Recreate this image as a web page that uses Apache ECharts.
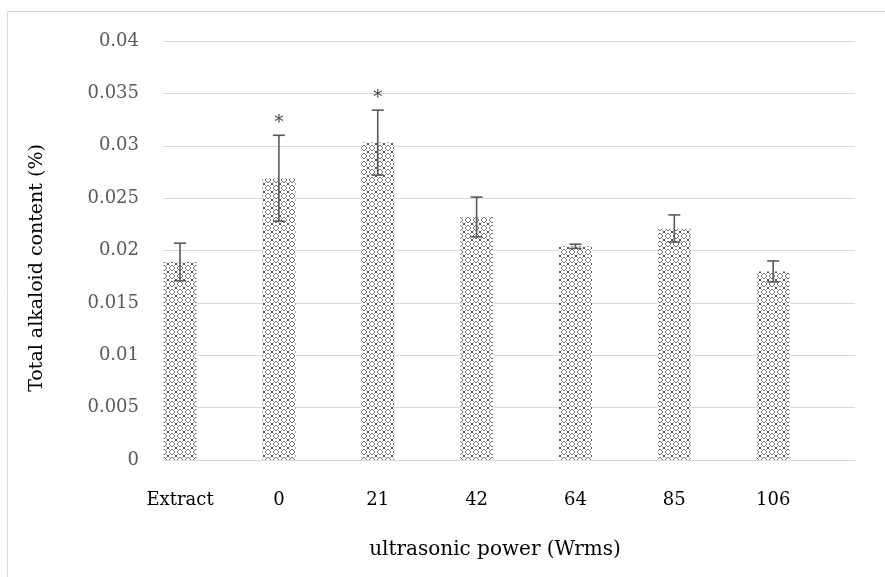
<!DOCTYPE html>
<html><head><meta charset="utf-8">
<script src="https://cdn.jsdelivr.net/npm/echarts@6/dist/echarts.min.js"></script>
<style>html,body{margin:0;padding:0;background:#fff}#c{width:885px;height:577px}</style>
</head><body><div id="c"></div>
<script>
var categories = ['Extract', '0', '21', '42', '64', '85', '106'];
var means = [0.0189, 0.0269, 0.0303, 0.0232, 0.0204, 0.0221, 0.0180];
var errors = [0.0018, 0.0041, 0.0031, 0.0019, 0.0002, 0.0013, 0.0010];
var marks = ['', '*', '*', '', '', '', ''];
var xTitle = 'ultrasonic power (Wrms)';
var yTitle = 'Total alkaloid content (%)';

var FONT = 'DejaVu Serif';

function makePattern() {
  var c = document.createElement('canvas');
  c.width = 8; c.height = 8;
  var g = c.getContext('2d');
  g.fillStyle = '#ffffff'; g.fillRect(0, 0, 8, 8);
  g.fillStyle = '#6e6e6e';
  [[3,1],[4,1],[2,2],[5,2],[1,3],[6,3],[1,4],[6,4],[2,5],[5,5],[3,6],[4,6]]
    .forEach(function(p){ g.fillRect(p[0], p[1], 1, 1); });
  g.fillStyle = '#555555';
  [[0,0],[7,7],[7,0],[0,7]].forEach(function(p){ g.fillRect(p[0], p[1], 1, 1); });
  g.fillStyle = '#b0b0b0';
  [[1,1],[6,1],[1,6],[6,6]].forEach(function(p){ g.fillRect(p[0], p[1], 1, 1); });
  return c;
}

var chart = echarts.init(document.getElementById('c'), null, {renderer: 'canvas'});
var errData = categories.map(function(c, i){ return [i, means[i], errors[i], marks[i]]; });

chart.setOption({
  animation: false,
  grid: [
    {left: 163, right: 30, top: 41, bottom: 117},
    {left: 130.6, width: 692, top: 41, bottom: 117}
  ],
  xAxis: [
    {gridIndex: 0, type: 'category', data: categories, show: false},
    {gridIndex: 1, type: 'category', data: categories,
     axisLine: {show: false}, axisTick: {show: false},
     axisLabel: {margin: 31, fontFamily: FONT, fontSize: 18, color: '#000'}}
  ],
  yAxis: [
    {gridIndex: 0, type: 'value', min: 0, max: 0.04, interval: 0.005,
     axisLine: {show: false}, axisTick: {show: false},
     axisLabel: {margin: 24, fontFamily: FONT, fontSize: 18, color: '#595959',
       formatter: function(v){ return String(parseFloat(v.toFixed(3))); }},
     splitLine: {lineStyle: {color: '#d9d9d9', width: 1}}},
    {gridIndex: 1, type: 'value', min: 0, max: 0.04, interval: 0.005, show: false}
  ],
  graphic: [
    {type: 'rect', shape: {x: 7.5, y: 11.5, width: 900, height: 700},
     style: {fill: 'none', stroke: '#d9d9d9', lineWidth: 1}, silent: true, z: -10},
    {type: 'text', x: 495, y: 550,
     style: {text: xTitle, font: '20px "' + FONT + '"', fill: '#000', textAlign: 'center', textVerticalAlign: 'middle'}},
    {type: 'text', x: 37, y: 268, rotation: Math.PI / 2,
     style: {text: yTitle, font: '19px "' + FONT + '"', fill: '#000', textAlign: 'center', textVerticalAlign: 'middle'}}
  ],
  series: [
    {type: 'bar', xAxisIndex: 1, yAxisIndex: 1, data: means, barWidth: 33,
     itemStyle: {color: {image: makePattern(), repeat: 'repeat'}}},
    {type: 'custom', xAxisIndex: 1, yAxisIndex: 1, data: errData, z: 5,
     renderItem: function(params, api){
       var x = api.value(0), m = api.value(1), e = api.value(2);
       var top = api.coord([x, m + e]);
       var bot = api.coord([x, m - e]);
       var cx = top[0], hw = 6;
       var st = {stroke: '#595959', lineWidth: 1.6};
       var ch = [
         {type: 'line', shape: {x1: cx, y1: top[1], x2: cx, y2: bot[1]}, style: st},
         {type: 'line', shape: {x1: cx - hw, y1: top[1], x2: cx + hw, y2: top[1]}, style: st},
         {type: 'line', shape: {x1: cx - hw, y1: bot[1], x2: cx + hw, y2: bot[1]}, style: st}
       ];
       var mk = errData[params.dataIndex][3];
       if (mk) {
         ch.push({type: 'text', style: {text: mk, x: cx, y: top[1] - 3, align: 'center', verticalAlign: 'bottom',
           font: '18px "' + FONT + '"', fill: '#404040'}});
       }
       return {type: 'group', children: ch};
     }}
  ]
});
</script></body></html>
